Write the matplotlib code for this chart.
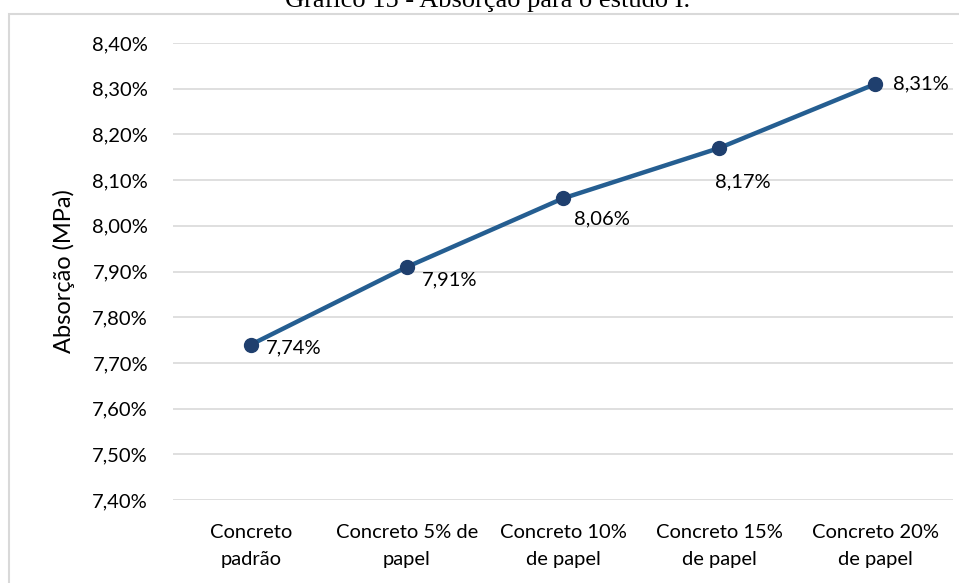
import matplotlib
matplotlib.use("Agg")
import matplotlib.pyplot as plt
from matplotlib.patches import Rectangle

categories = ["Concreto\npadrão", "Concreto 5% de\npapel", "Concreto 10%\nde papel",
              "Concreto 15%\nde papel", "Concreto 20%\nde papel"]
values = [7.74, 7.91, 8.06, 8.17, 8.31]
yticks = [7.40, 7.50, 7.60, 7.70, 7.80, 7.90, 8.00, 8.10, 8.20, 8.30, 8.40]
label_offsets = [(11, -2), (11, -9), (8, -15), (-3, -24), (13, 0)]

plt.rcParams['font.family'] = ['Lato', 'DejaVu Sans']

fig = plt.figure(figsize=(9.59, 5.83), dpi=100)
fig.patches.append(Rectangle((8.5/959, -0.1), 1.2, 1 - 13.5/583 + 0.1,
                             transform=fig.transFigure, fill=False,
                             edgecolor="#D9D9D9", linewidth=1.5))
ax = fig.add_axes([173/959, 1 - 500/583, 780/959, 457/583])

x = list(range(len(categories)))
ax.plot(x, values, color="#255E91", linewidth=3.2, marker="o", markersize=10,
        markerfacecolor="#1F3F6E", markeredgecolor="#1F3F6E", zorder=3)
for xi, v, off in zip(x, values, label_offsets):
    ax.annotate(f"{v:.2f}%".replace(".", ","), (xi, v), xytext=off,
                textcoords="offset points", ha="left", va="center",
                fontsize=14.5, color="#000000")

ax.set_xlim(-0.5, len(categories) - 0.5)
ax.set_ylim(7.40, 8.40)
ax.set_yticks(yticks)
ax.set_yticklabels([f"{t:.2f}%".replace(".", ",") for t in yticks], fontsize=14.5)
ax.set_xticks(x)
ax.set_xticklabels(categories, fontsize=14.5, linespacing=1.75)
ax.grid(axis="y", color="#D9D9D9", linewidth=1.2)
ax.set_axisbelow(True)
for s in ax.spines.values():
    s.set_visible(False)
ax.tick_params(length=0, pad=18, axis="y")
ax.tick_params(length=0, pad=17, axis="x")
ax.set_ylabel("Absorção (MPa)", fontsize=17, labelpad=12)

fig.text(488/959, 1 - 7/583, "Gráfico 15 - Absorção para o estudo I.", ha="center",
         va="baseline", fontsize=19, family=["Liberation Serif", "DejaVu Serif"])

fig.savefig("out.png", dpi=100)
